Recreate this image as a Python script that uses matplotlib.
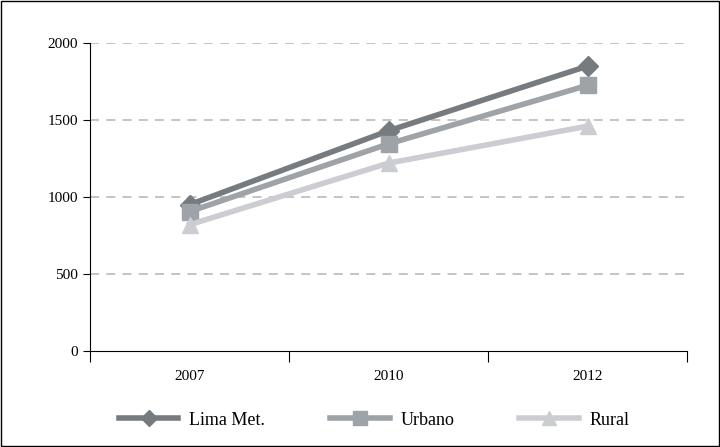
import numpy as np
import matplotlib.pyplot as plt
from matplotlib.patches import Rectangle

years = ['2007', '2010', '2012']
lima = [950, 1430, 1850]
urbano = [905, 1345, 1725]
rural = [820, 1220, 1460]

plt.rcParams['font.family'] = ['Liberation Serif', 'DejaVu Serif']

fig = plt.figure(figsize=(7.2, 4.47), dpi=100)
ax = fig.add_axes([90/720, 1-351/447, (687-90)/720, (351-43)/447])

x = np.arange(len(years))
ax.plot(x, lima, color='#757b7e', lw=4, marker='D', ms=10, label='Lima Met.')
ax.plot(x, urbano, color='#9ea3a8', lw=4, marker='s', ms=12, label='Urbano')
ax.plot(x, rural, color='#cbcdd2', lw=4, marker='^', ms=12, label='Rural')

ax.set_xlim(-0.5, 2.5)
ax.set_ylim(0, 2000)
ax.set_yticks([0, 500, 1000, 1500, 2000])
ax.set_xticks([-0.5, 0.5, 1.5, 2.5])
ax.set_xticklabels([])
ax.set_xticks(x, minor=True)
ax.set_xticklabels(years, minor=True)
ax.tick_params(axis='x', which='major', length=8, direction='out', color='black')
ax.tick_params(axis='x', which='minor', length=0, pad=14, labelsize=11)
ax.tick_params(axis='y', length=5, labelsize=11)
ax.yaxis.grid(True, ls=(0, (5, 4)), color='#bfbfbf', lw=1.3)
ax.set_axisbelow(True)
ax.get_ygridlines()[0].set_visible(False)
for s in ['top', 'right']:
    ax.spines[s].set_visible(False)

fig.legend(loc='center', bbox_to_anchor=(0.52, 0.06), ncol=3, frameon=False,
           prop={'family': 'Liberation Serif', 'size': 13},
           handlelength=3.3, handletextpad=0.6, columnspacing=3.6, markerscale=0.85)

fig.patches.append(Rectangle((0.002, 0.002), 0.996, 0.996, transform=fig.transFigure,
                             fill=False, ec='black', lw=1))

fig.savefig('out.png', dpi=100)
